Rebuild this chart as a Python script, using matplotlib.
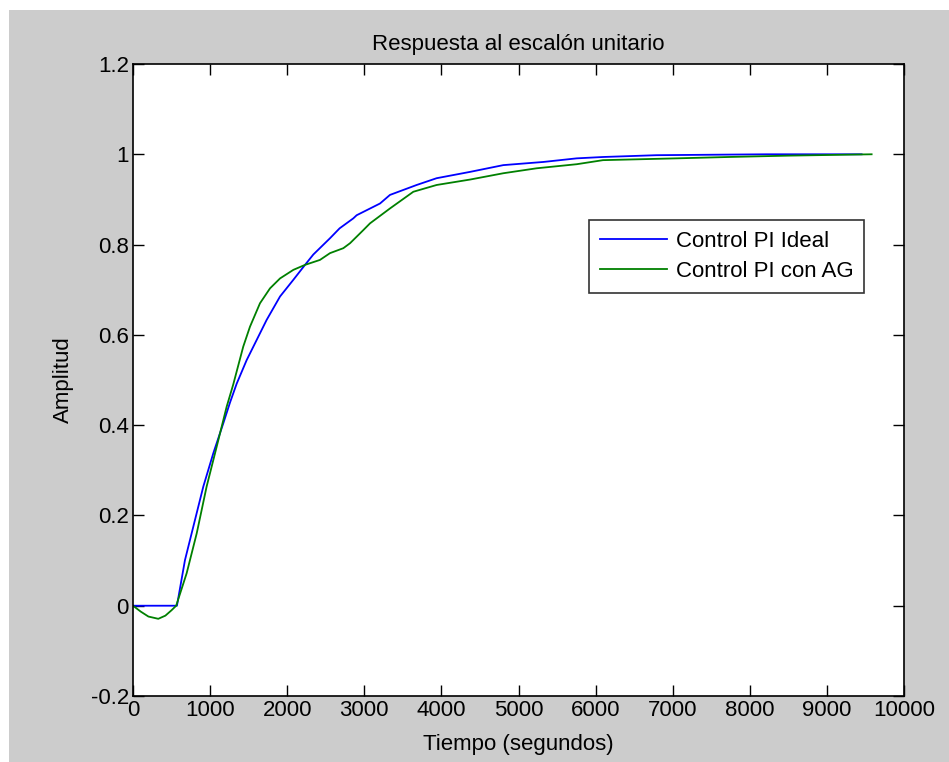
import numpy as np
import matplotlib.pyplot as plt
from matplotlib.patches import Rectangle

plt.rcParams['font.family'] = ['Liberation Sans', 'DejaVu Sans']

# step response
t_ideal = [0, 570, 674, 782, 912, 1042, 1171, 1258, 1345, 1474, 1733, 1907, 2080,
           2231, 2339, 2555, 2680, 2857, 2901, 3204, 3333, 3679, 3938, 4371,
           4803, 5322, 5755, 6096, 6792, 8219, 9450]
y_ideal = [0, 0, 0.101, 0.175, 0.264, 0.338, 0.404, 0.450, 0.492, 0.544, 0.633,
           0.685, 0.722, 0.755, 0.778, 0.814, 0.836, 0.858, 0.865, 0.891,
           0.910, 0.932, 0.947, 0.961, 0.976, 0.983, 0.991, 0.994, 0.998, 1.0, 1.0]

t_ag = [0, 100, 200, 328, 420, 500, 560, 696, 826, 955, 1085, 1215, 1300, 1430,
        1517, 1647, 1777, 1907, 2080, 2231, 2425, 2555, 2728, 2815, 2987, 3074,
        3333, 3636, 3938, 4371, 4803, 5236, 5755, 6096, 7052, 7721, 8500, 9580]
y_ag = [0, -0.013, -0.024, -0.029, -0.022, -0.01, 0, 0.072, 0.160, 0.264, 0.352,
        0.441, 0.490, 0.574, 0.618, 0.670, 0.703, 0.725, 0.744, 0.755, 0.766,
        0.781, 0.792, 0.803, 0.832, 0.847, 0.880, 0.917, 0.932, 0.944, 0.958,
        0.969, 0.978, 0.987, 0.991, 0.994, 0.997, 1.0]

xticks = list(range(0, 10001, 1000))
yticks = [-0.2, 0, 0.2, 0.4, 0.6, 0.8, 1, 1.2]
ylabels = ['-0.2', '0', '0.2', '0.4', '0.6', '0.8', '1', '1.2']

fig = plt.figure(figsize=(9.49, 7.62), dpi=100, facecolor='white')
fig.patches.append(Rectangle((9 / 949, 0), 1, 752 / 762, transform=fig.transFigure,
                             facecolor='#cccccc', edgecolor='none', zorder=-1))

ax = fig.add_axes([133 / 949, 66 / 762, 771 / 949, 632 / 762])
ax.plot(t_ideal, y_ideal, color='#0000ff', lw=1.3, label='Control PI Ideal')
ax.plot(t_ag, y_ag, color='#008000', lw=1.3, label='Control PI con AG')

ax.set_xlim(0, 10000)
ax.set_ylim(-0.2, 1.2)
ax.set_xticks(xticks)
ax.set_xticklabels([str(v) for v in xticks])
ax.set_yticks(yticks)
ax.set_yticklabels(ylabels)
ax.tick_params(direction='in', length=8, width=1, top=True, right=True,
               labelsize=16, pad=3)
for s in ax.spines.values():
    s.set_linewidth(1.2)

ax.set_title('Respuesta al escalón unitario', fontsize=16, pad=10)
ax.set_xlabel('Tiempo (segundos)', fontsize=16, labelpad=9)
ax.set_ylabel('Amplitud', fontsize=16, labelpad=12)

leg = ax.legend(loc='upper left', bbox_to_anchor=(456 / 771, (698 - 222) / 632),
                fontsize=16, frameon=True, fancybox=False, edgecolor='black',
                borderpad=0.5, handlelength=3.0, handletextpad=0.4, labelspacing=0.4,
                borderaxespad=0)
leg.get_frame().set_linewidth(1.2)

fig.savefig('out.png', dpi=100, facecolor=fig.get_facecolor())
